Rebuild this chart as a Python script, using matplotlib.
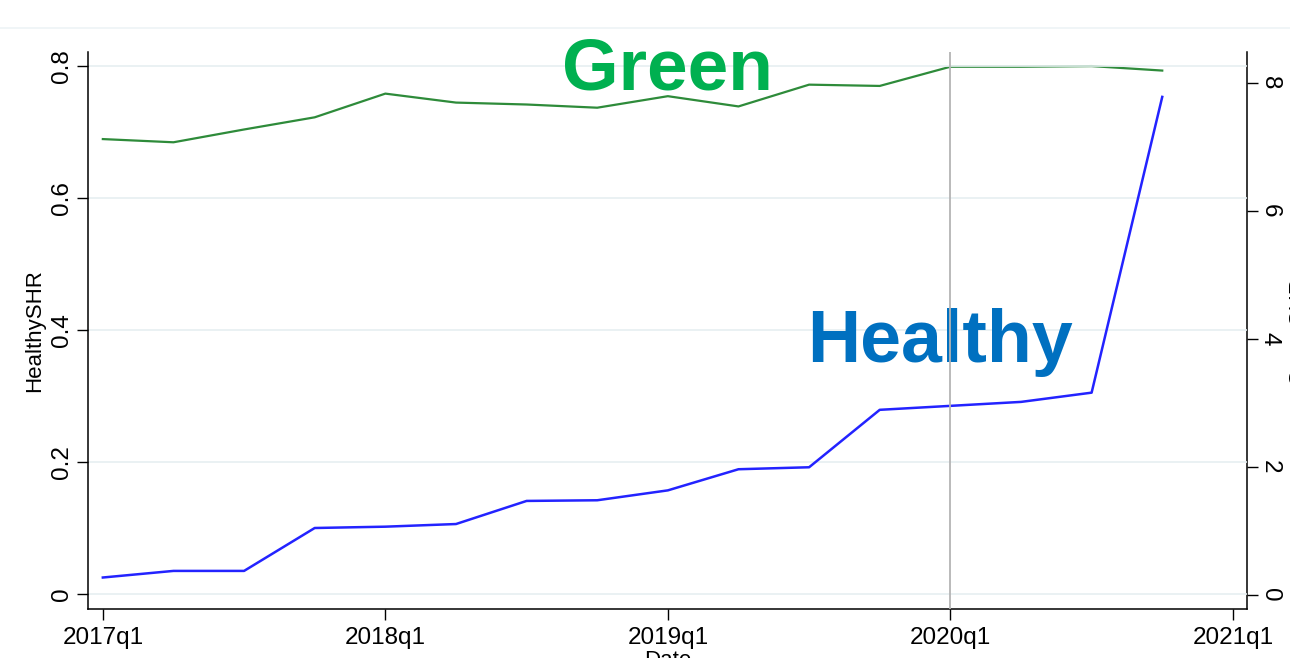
import matplotlib
matplotlib.use("Agg")
import matplotlib.pyplot as plt
from matplotlib.lines import Line2D

plt.rcParams['font.family'] = ['Liberation Sans', 'DejaVu Sans']

# ---- data ----
quarters = ["2017q1", "2017q2", "2017q3", "2017q4",
            "2018q1", "2018q2", "2018q3", "2018q4",
            "2019q1", "2019q2", "2019q3", "2019q4",
            "2020q1", "2020q2", "2020q3", "2020q4"]
healthy_shr = [0.025, 0.035, 0.035, 0.100, 0.102, 0.106, 0.141, 0.142,
               0.157, 0.189, 0.192, 0.279, 0.285, 0.291, 0.305, 0.753]
green_shr = [7.12, 7.07, 7.27, 7.46, 7.83, 7.69, 7.66, 7.61,
             7.79, 7.63, 7.97, 7.95, 8.25, 8.25, 8.26, 8.19]
xtick_labels = ["2017q1", "2018q1", "2019q1", "2020q1", "2021q1"]
xtick_pos = [0, 4, 8, 12, 16]
left_ticks = [0, 0.2, 0.4, 0.6, 0.8]
left_tick_labels = ["0", "0.2", "0.4", "0.6", "0.8"]
right_ticks = [0, 2, 4, 6, 8]
event_quarter = 12  # 2020q1

x = list(range(len(quarters)))

fig = plt.figure(figsize=(12.9, 6.58), dpi=100)
W, H = 1290, 658
ax = fig.add_axes([88 / W, (H - 609) / H, (1247 - 88) / W, (609 - 52) / H])
ax2 = ax.twinx()

# grid
for t in left_ticks:
    ax.axhline(t, color='#e6eff1', lw=1.2, zorder=0)

# lines
ax.plot(x, healthy_shr, color='#2323ff', lw=1.8, zorder=3)
ax2.plot(x, green_shr, color='#2e8b3a', lw=1.6, zorder=3)

ax.axvline(event_quarter, color='#b4b4b4', lw=1.3, zorder=5)

ax.set_xlim(-0.21, 16.2)
ax.set_ylim(-0.0227, 0.821)
ax2.set_ylim(-0.219, 8.48)

ax.set_xticks(xtick_pos)
ax.set_xticklabels(xtick_labels)
ax.set_yticks(left_ticks)
ax.set_yticklabels(left_tick_labels)
ax2.set_yticks(right_ticks)

ax.tick_params(axis='x', length=8, width=1, pad=5, labelsize=17.5, colors='black')
ax.tick_params(axis='y', length=8, width=1, pad=2.5, labelsize=17.5, labelrotation=90)
ax2.tick_params(axis='y', length=8, width=1, pad=0.5, labelsize=17.5, labelrotation=270)
for lab in ax.get_yticklabels():
    lab.set_va('center')
for lab in ax2.get_yticklabels():
    lab.set_va('center')

for a in (ax, ax2):
    a.spines['top'].set_visible(False)
    for s in ('left', 'right', 'bottom'):
        a.spines[s].set_linewidth(1.1)
ax.spines['right'].set_visible(False)
ax2.spines['left'].set_visible(False)
ax2.spines['bottom'].set_visible(False)

ax.set_ylabel('HealthySHR', fontsize=16)
ax.yaxis.set_label_coords(-0.037, 0.5)
ax2.set_ylabel('GreenSHR', fontsize=16)
ax2.yaxis.set_label_coords(1.0355, 0.5)
ax.set_xlabel('Date', fontsize=16)
ax.xaxis.set_label_coords(0.5, -0.0736)

ax.set_zorder(ax2.get_zorder() + 1)
ax.patch.set_visible(False)

ax.text(8.0, 0.764, 'Green', color='#00b050', fontsize=52.5, fontweight='bold',
        ha='center', va='baseline', zorder=4)
ax.text(11.86, 0.352, 'Healthy', color='#0070c0', fontsize=53, fontweight='bold',
        ha='center', va='baseline', zorder=4)

fig.add_artist(Line2D([0, 1], [(H - 28) / H, (H - 28) / H], transform=fig.transFigure,
                      color='#eef4f6', lw=1.2))

fig.savefig('out.png', dpi=100)
